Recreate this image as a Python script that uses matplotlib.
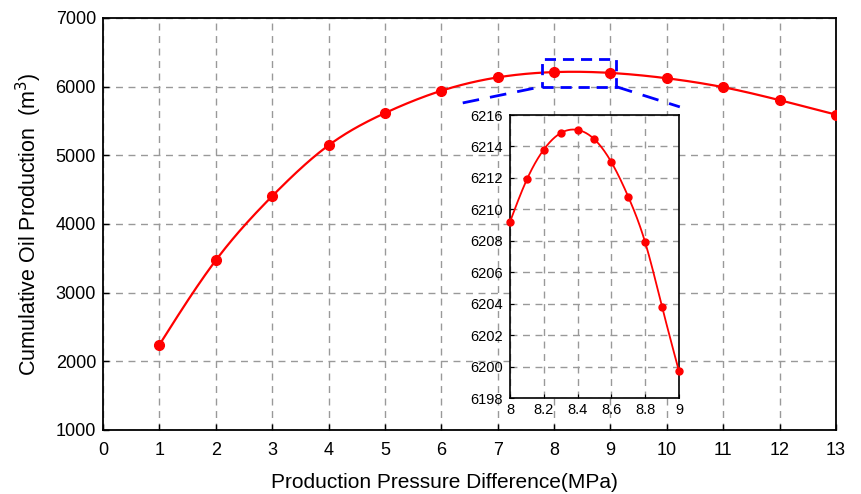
import numpy as np
import matplotlib
matplotlib.use("Agg")
import matplotlib.pyplot as plt
from matplotlib.patches import Rectangle

# main curve
pressure = [1, 2, 3, 4, 5, 6, 7, 8, 9, 10, 11, 12, 13]
oil = [2240, 3470, 4405, 5145, 5615, 5940, 6135, 6212, 6200, 6122, 5992, 5803, 5592]

# zoomed part 8-9 MPa
pressure_zoom = [8.0, 8.1, 8.2, 8.3, 8.4, 8.5, 8.6, 8.7, 8.8, 8.9, 9.0]
oil_zoom = [6209.2, 6211.9, 6213.8, 6214.85, 6215.05, 6214.45, 6213.0, 6210.8, 6207.9, 6203.8, 6199.7]


def SPLINE(x, y, n=400):
    # natural cubic spline, only to draw a smooth line through the points
    x = np.asarray(x, float)
    y = np.asarray(y, float)
    k = len(x)
    h = np.diff(x)
    A = np.zeros((k, k))
    b = np.zeros(k)
    A[0, 0] = A[-1, -1] = 1
    for i in range(1, k - 1):
        A[i, i - 1] = h[i - 1]
        A[i, i] = 2 * (h[i - 1] + h[i])
        A[i, i + 1] = h[i]
        b[i] = 6 * ((y[i + 1] - y[i]) / h[i] - (y[i] - y[i - 1]) / h[i - 1])
    M = np.linalg.solve(A, b)
    xs = np.linspace(x[0], x[-1], n)
    idx = np.clip(np.searchsorted(x, xs) - 1, 0, k - 2)
    x0, x1 = x[idx], x[idx + 1]
    hh = x1 - x0
    ys = (M[idx] * (x1 - xs) ** 3 / (6 * hh) + M[idx + 1] * (xs - x0) ** 3 / (6 * hh)
          + (y[idx] / hh - M[idx] * hh / 6) * (x1 - xs)
          + (y[idx + 1] / hh - M[idx + 1] * hh / 6) * (xs - x0))
    return xs, ys


plt.rcParams['font.family'] = ['Liberation Sans', 'DejaVu Sans']
grid_kw = dict(color='#999999', linestyle=(0, (5, 4)), linewidth=1.0)

fig = plt.figure(figsize=(8.61, 4.94), dpi=100)
ax = fig.add_axes([0.1196, 0.1296, 0.8514, 0.834])

xs, ys = SPLINE(pressure, oil)
ax.plot(xs, ys, color='red', linewidth=1.6, zorder=3)
ax.plot(pressure, oil, 'o', color='red', markersize=7, zorder=4)

ax.set_xlim(0, 13)
ax.set_ylim(1000, 7000)
ax.set_xticks(range(0, 14))
ax.set_yticks(range(1000, 7001, 1000))
ax.grid(True, **grid_kw)
ax.tick_params(direction='in', labelsize=13, length=4, width=1)
ax.tick_params(axis='x', pad=9)
ax.tick_params(axis='y', pad=5)
for s in ax.spines.values():
    s.set_linewidth(1.3)
ax.set_xlabel('Production Pressure Difference(MPa)', fontsize=15, labelpad=8)
ax.xaxis.set_label_coords(0.466, -0.105)
ax.set_ylabel('Cumulative Oil Production  (m$^3$)', fontsize=15.5, labelpad=8)

# zoom box and the two leader lines
ax.add_patch(Rectangle((7.78, 6000), 1.32, 400, fill=False, edgecolor='blue',
                       linestyle=(0, (4, 2.5)), linewidth=2, zorder=5))
ax.plot([6.38, 7.78], [5763, 6000], color='blue', linestyle=(0, (6, 4)), linewidth=2, zorder=5)
ax.plot([9.1, 10.23], [6000, 5705], color='blue', linestyle=(0, (6, 4)), linewidth=2, zorder=5)

# inset
axin = fig.add_axes([0.5923, 0.1943, 0.1963, 0.5729])
xs2, ys2 = SPLINE(pressure_zoom, oil_zoom)
axin.plot(xs2, ys2, color='red', linewidth=1.3, zorder=3)
axin.plot(pressure_zoom, oil_zoom, 'o', color='red', markersize=5, zorder=4, clip_on=False)
axin.set_xlim(8, 9)
axin.set_ylim(6198, 6216)
axin.set_xticks([8, 8.2, 8.4, 8.6, 8.8, 9])
axin.set_xticklabels(['8', '8.2', '8.4', '8.6', '8.8', '9'])
axin.set_yticks(range(6198, 6217, 2))
axin.grid(True, **grid_kw)
axin.tick_params(direction='in', labelsize=10.5, length=3)
axin.tick_params(axis='y', pad=5)
for s in axin.spines.values():
    s.set_linewidth(1.2)

fig.savefig('out.png', dpi=100)
